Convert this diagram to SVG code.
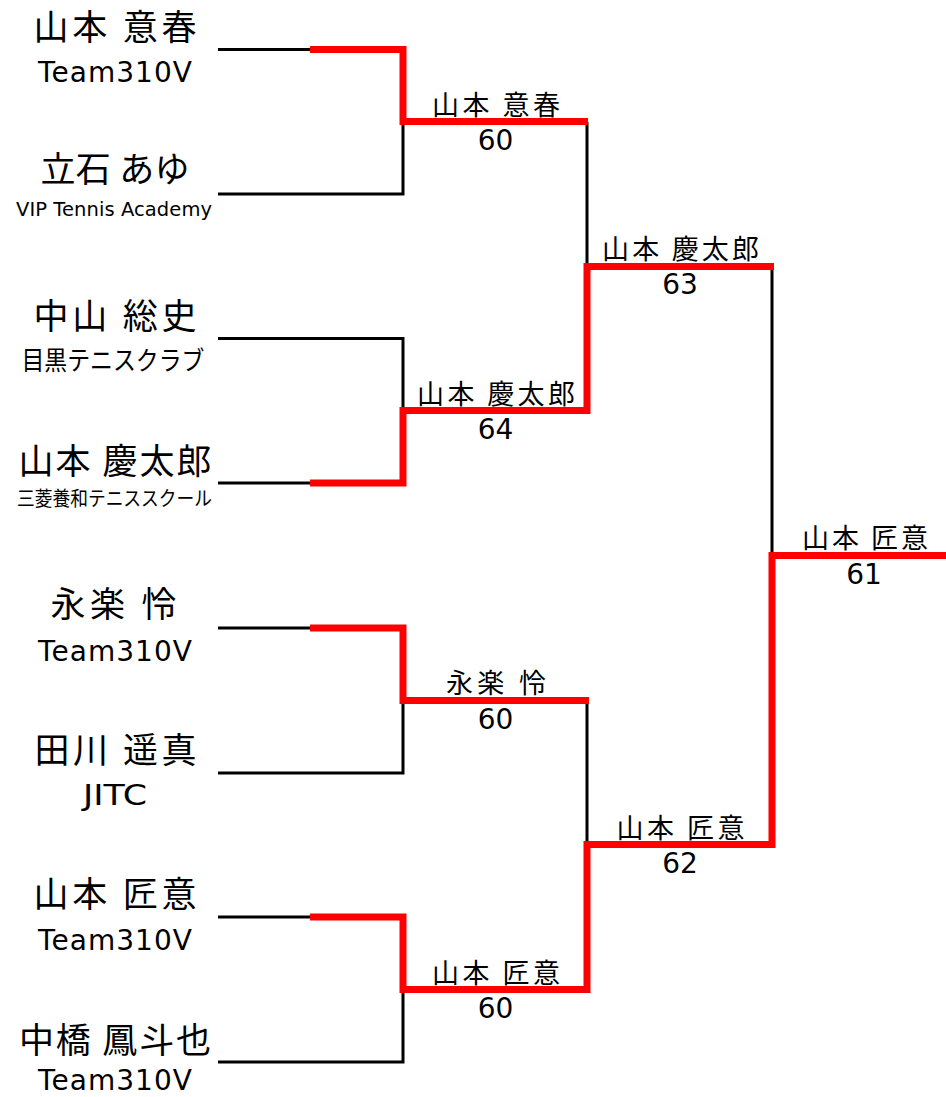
<svg xmlns="http://www.w3.org/2000/svg" width="946" height="1097" viewBox="0 0 946 1097">
<style>
.bk{fill:none;stroke:#000;stroke-width:3;stroke-linejoin:miter}
.rd{fill:none;stroke:#ff0000;stroke-width:7;stroke-linejoin:miter;stroke-linecap:butt}
text{fill:#000;text-anchor:middle}
.name{font-family:"Noto Sans CJK JP","Noto Sans",sans-serif;font-size:35px}
.team{font-family:"DejaVu Sans","Noto Sans CJK JP",sans-serif;font-size:28px}
.jteam{font-family:"Noto Sans CJK JP",sans-serif}
.lbl{font-family:"Noto Sans CJK JP",sans-serif;font-size:27px}
.score{font-family:"DejaVu Sans",sans-serif;font-size:28px}
</style>
<rect width="946" height="1097" fill="#fff"/>
<g id="connectors">
<polyline class="bk" points="218,49.5 310,49.5"/>
<polyline class="bk" points="218,194 403,194 403,122"/>
<polyline class="bk" points="218,338.5 403,338.5 403,410.5"/>
<polyline class="bk" points="218,483 310,483"/>
<polyline class="bk" points="218,628 310,628"/>
<polyline class="bk" points="218,773 403,773 403,700"/>
<polyline class="bk" points="218,917 310,917"/>
<polyline class="bk" points="218,1062 403,1062 403,989.5"/>
<polyline class="bk" points="587,122 587,266.5"/>
<polyline class="bk" points="587,700 587,844.5"/>
<polyline class="bk" points="772,266.5 772,555.5"/>
<polyline class="rd" points="310,49.5 403,49.5 403,121.5 588,121.5"/>
<polyline class="rd" points="310,483 403,483 403,410.5 587,410.5 587,266.5 774,266.5"/>
<polyline class="rd" points="310,628 403,628 403,700.5 589,700.5"/>
<polyline class="rd" points="310,917 403,917 403,989.5 587,989.5 587,844.5 772,844.5 772,555.5 946,555.5"/>
</g>
<g id="p1"><text class="name" x="115" y="39.5" textLength="163">山本 意春</text><text class="team" x="115" y="82" textLength="154">Team310V</text></g>
<g id="p2"><text class="name" x="115" y="182" textLength="149">立石 あゆ</text><text class="team" x="114" y="216" style="font-size:19.5px" textLength="196">VIP Tennis Academy</text></g>
<g id="p3"><text class="name" x="115" y="329" textLength="163">中山 総史</text><text class="team jteam" x="113" y="370" style="font-size:26px" textLength="183" lengthAdjust="spacingAndGlyphs">目黒テニスクラブ</text></g>
<g id="p4"><text class="name" x="115" y="474" textLength="193">山本 慶太郎</text><text class="team jteam" x="114.5" y="505.5" style="font-size:20px" textLength="195" lengthAdjust="spacingAndGlyphs">三菱養和テニススクール</text></g>
<g id="p5"><text class="name" x="113.5" y="617" textLength="126">永楽 怜</text><text class="team" x="115" y="661" textLength="154">Team310V</text></g>
<g id="p6"><text class="name" x="115.5" y="763" textLength="162">田川 遥真</text><text class="team" x="115" y="805" textLength="64" lengthAdjust="spacingAndGlyphs">JITC</text></g>
<g id="p7"><text class="name" x="115" y="907" textLength="163">山本 匠意</text><text class="team" x="115" y="950" textLength="154">Team310V</text></g>
<g id="p8"><text class="name" x="115" y="1053" textLength="192">中橋 鳳斗也</text><text class="team" x="115" y="1090" textLength="154">Team310V</text></g>
<g id="r2m1"><text class="lbl" x="496" y="114.5" textLength="128">山本 意春</text><text class="score" x="495.5" y="150">60</text></g>
<g id="r2m2"><text class="lbl" x="496" y="403.5" textLength="158">山本 慶太郎</text><text class="score" x="495.5" y="439">64</text></g>
<g id="r2m3"><text class="lbl" x="496" y="693" textLength="100">永楽 怜</text><text class="score" x="495.5" y="728.5">60</text></g>
<g id="r2m4"><text class="lbl" x="496" y="982.5" textLength="128">山本 匠意</text><text class="score" x="495.5" y="1018">60</text></g>
<g id="r3m1"><text class="lbl" x="680.5" y="259" textLength="157">山本 慶太郎</text><text class="score" x="680" y="294">63</text></g>
<g id="r3m2"><text class="lbl" x="680.5" y="837.5" textLength="128">山本 匠意</text><text class="score" x="680" y="873">62</text></g>
<g id="final"><text class="lbl" x="865" y="548" textLength="126">山本 匠意</text><text class="score" x="864" y="583.5">61</text></g>
</svg>
